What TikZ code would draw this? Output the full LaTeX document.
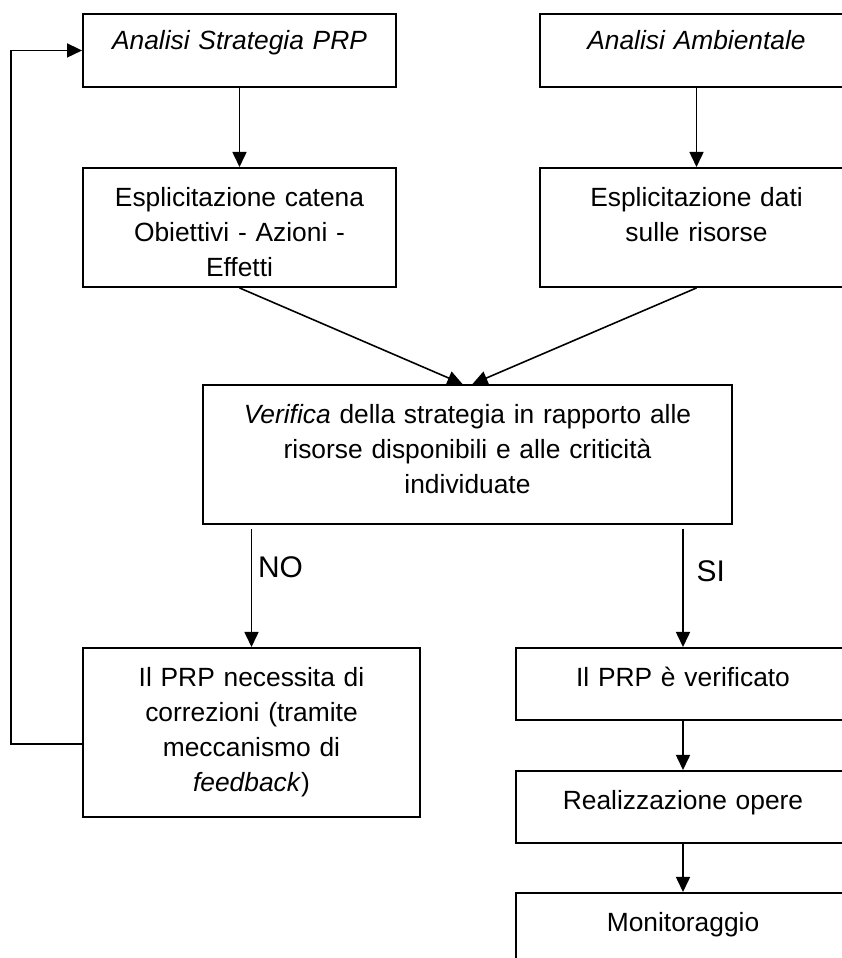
\documentclass[tikz,border=0pt]{standalone}
\usepackage{fontspec}
\setmainfont{Liberation Sans}
\usetikzlibrary{positioning, arrows.meta}

\begin{document}
\begin{tikzpicture}[
    stage/.style={draw, line width=1.1pt, inner sep=0pt, anchor=north, align=center,
        font=\fontsize{15pt}{19.9pt}\selectfont, text height=0.78cm},
    link/.style={line width=0.9pt, -{Triangle[length=0.3cm, width=0.28cm]}},
    answer/.style={right, font=\fontsize{17pt}{20pt}\selectfont},
]
\clip (0, 0) rectangle (16.84, 19.16);

\node[stage, text width=6.26cm, text height=0.72cm, text depth=0.74cm] (strat) at (4.79, 18.9) {\textit{Analisi Strategia PRP}};
\node[stage, text width=6.26cm, text height=0.72cm, text depth=0.74cm] (env) at (13.93, 18.9) {\textit{Analisi Ambientale}};

\node[stage, text width=6.26cm, text depth=1.6cm] (chain) at (4.79, 15.82) {Esplicitazione catena\\Obiettivi - Azioni -\\Effetti};
\node[stage, text width=6.26cm, text depth=1.6cm] (data) at (13.93, 15.82) {Esplicitazione dati\\sulle risorse};

\node[stage, text width=10.58cm, text depth=2.0cm] (check) at (9.35, 11.48) {\textit{Verifica} della strategia in rapporto alle\\risorse disponibili e alle criticità\\individuate};

\node[stage, text width=6.74cm, text depth=2.6cm] (fix) at (5.03, 6.22) {Il PRP necessita di\\correzioni (tramite\\meccanismo di\\\textit{feedback})};
\node[stage, text width=6.68cm, text depth=0.66cm] (ok) at (13.66, 6.22) {Il PRP è verificato};
\node[stage, text width=6.68cm, text depth=0.66cm] (works) at (13.66, 3.76) {Realizzazione opere};
\node[stage, text width=6.68cm, text depth=0.66cm] (monitor) at (13.66, 1.32) {Monitoraggio};

\draw[link] (strat) -- (chain);
\draw[link] (env) -- (data);
\draw[link] (chain.south) -- ([xshift=-0.1cm]check.north);
\draw[link] (data.south) -- ([xshift=0.1cm]check.north);
\draw[link, shorten <=0.08cm] (check.south -| fix.north) -- node[answer, pos=0.35] {NO} (fix.north);
\draw[link, shorten <=0.08cm] (check.south -| ok.north) -- node[answer, pos=0.38, xshift=0.14cm] {SI} (ok.north);
\draw[link] (ok) -- (works);
\draw[link] (works) -- (monitor);
\draw[link] ([yshift=-0.23cm]fix.west) -- ++(-1.42, 0) |- (strat.west);
\end{tikzpicture}
\end{document}
